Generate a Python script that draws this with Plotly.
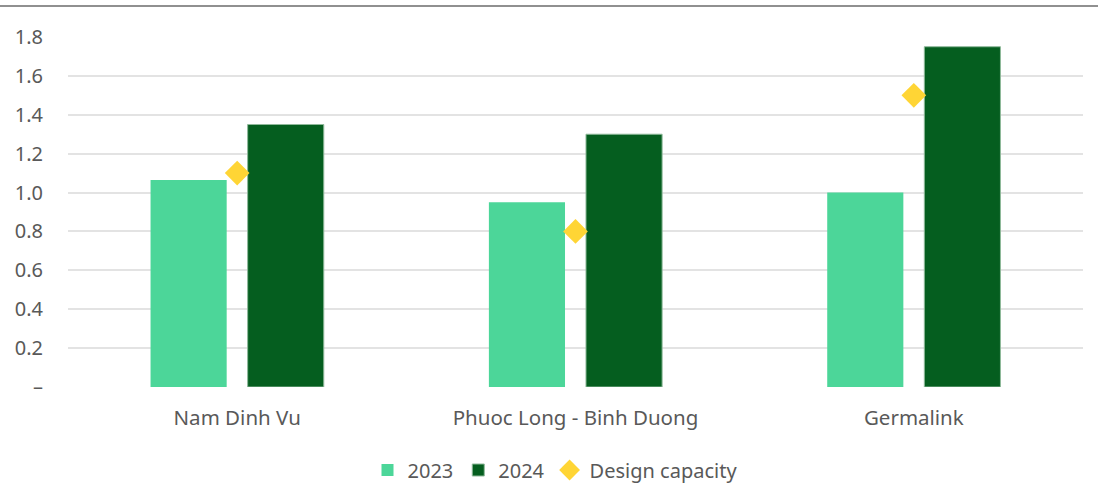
import plotly.graph_objects as go

categories = ["Nam Dinh Vu", "Phuoc Long - Binh Duong", "Germalink"]
values_2023 = [1.065, 0.95, 1.0]
values_2024 = [1.35, 1.30, 1.75]
design_capacity = [1.10, 0.80, 1.50]
tick_vals = [0, 0.2, 0.4, 0.6, 0.8, 1.0, 1.2, 1.4, 1.6, 1.8]
tick_text = ["–", "0.2", "0.4", "0.6", "0.8", "1.0", "1.2", "1.4", "1.6", "1.8"]

W, H = 1098, 484
ML, MR, MT, MB = 68, 15, 37, 97
PW = W - ML - MR
PH = H - MT - MB

font_fam = "Noto Sans, Lato, sans-serif"
grey = "#595959"

fig = go.Figure()
fig.add_trace(go.Bar(name="2023", x=categories, y=values_2023,
                     marker=dict(color="#4cd699", line=dict(width=0))))
fig.add_trace(go.Bar(name="2024", x=categories, y=values_2024,
                     marker=dict(color="#055e1f", line=dict(width=1, color="#8fb99a"))))
fig.add_trace(go.Scatter(name="Design capacity", x=categories, y=design_capacity,
                         mode="markers",
                         marker=dict(symbol="diamond", size=19, color="#ffd535")))

fig.update_layout(
    width=W, height=H,
    margin=dict(l=ML, r=MR, t=MT, b=MB, autoexpand=False),
    paper_bgcolor="white", plot_bgcolor="white",
    barmode="group", bargap=0.426, bargroupgap=0.216,
    font=dict(family=font_fam, size=20, color=grey),
    showlegend=True,
    legend=dict(orientation="h", x=555 / W, xanchor="center", xref="container",
                y=1 - 470 / H, yanchor="middle", yref="container",
                font=dict(size=20, color=grey),
                itemwidth=30, traceorder="normal"),
    xaxis=dict(showgrid=False, zeroline=False, showline=False, ticks="",
               tickfont=dict(size=20.5, color=grey), ticklabelstandoff=16),
    yaxis=dict(range=[0, 1.8], tickvals=tick_vals, ticktext=tick_text,
               showgrid=True, gridcolor="#e3e3e3", gridwidth=2,
               zeroline=False, showline=False, ticks="",
               tickfont=dict(size=20, color=grey), ticklabelstandoff=24),
    shapes=[dict(type="line", xref="paper", yref="paper",
                 x0=-ML / PW, x1=1 + MR / PW,
                 y0=1 + (MT - 6) / PH, y1=1 + (MT - 6) / PH,
                 line=dict(color="#6b6b6b", width=1.5))],
)

fig.write_html("out.html")
